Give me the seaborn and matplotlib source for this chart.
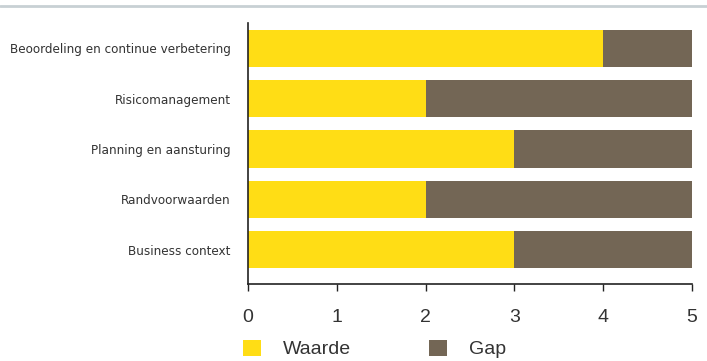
import matplotlib
matplotlib.use("Agg")
import matplotlib.pyplot as plt
import seaborn as sns
import pandas as pd
from matplotlib.patches import Patch
from matplotlib.lines import Line2D
from matplotlib import font_manager
from matplotlib.font_manager import FontProperties

categories = ["Beoordeling en continue verbetering", "Risicomanagement",
              "Planning en aansturing", "Randvoorwaarden", "Business context"]
waarde = [4, 2, 3, 2, 3]
gap = [1, 3, 2, 3, 2]
xticks = [0, 1, 2, 3, 4, 5]

YELLOW = "#FFDD15"
BROWN = "#736655"
TEXT = "#333333"

# look for a condensed / narrow sans face
cond = None
for f in font_manager.fontManager.ttflist:
    nm = f.name.lower()
    if ("narrow" in nm or "condensed" in nm or str(f.stretch) in ("condensed", "semi-condensed", "575", "500")) \
            and f.style == "normal" and f.weight in (400, "normal", "regular"):
        cond = f
        break

sns.set_style("white")
plt.rcParams["font.family"] = ["Liberation Sans", "DejaVu Sans"]

df = pd.DataFrame({"cat": categories, "waarde": waarde, "gap": gap})
df["total"] = df["waarde"] + df["gap"]

fig = plt.figure(figsize=(7.07, 3.61), dpi=100)
ax = fig.add_axes([248/707, 1-284/361, (692-248)/707, (284-23)/361])

sns.barplot(data=df, y="cat", x="total", color=BROWN, orient="h", width=0.74,
            saturation=1, ax=ax, linewidth=0)
sns.barplot(data=df, y="cat", x="waarde", color=YELLOW, orient="h", width=0.74,
            saturation=1, ax=ax, linewidth=0)

ax.set_xlim(0, 5)
ax.set_ylim(4.686, -0.507)
ax.set_xticks(xticks)
ax.set_xticklabels([str(t) for t in xticks], fontsize=14, color=TEXT)
ax.set_xlabel("")
ax.set_ylabel("")
ax.tick_params(axis="x", direction="out", length=5, width=1, color="#222222", pad=13, bottom=True)
ax.tick_params(axis="y", length=0, pad=12.5)
if cond is not None:
    fp = FontProperties(fname=cond.fname, size=9.6)
else:
    fp = FontProperties(family="Roboto", size=9.6)
for lab in ax.get_yticklabels():
    lab.set_fontproperties(fp)
    lab.set_color(TEXT)

for s in ["top", "right"]:
    ax.spines[s].set_visible(False)
for s in ["left", "bottom"]:
    ax.spines[s].set_color("#222222")
    ax.spines[s].set_linewidth(1.2)

fig.add_artist(Line2D([0, 1], [1-5.5/361, 1-5.5/361], transform=fig.transFigure,
                      color="#c8d0d4", linewidth=2))

handles = [Patch(facecolor=YELLOW, edgecolor="none", label="Waarde"),
           Patch(facecolor=BROWN, edgecolor="none", label="Gap")]
fig.legend(handles=handles, loc="center left", bbox_to_anchor=(243/707, 1-349/361),
           ncol=2, frameon=False, fontsize=14, handlelength=0.93, handleheight=0.93,
           handletextpad=1.13, columnspacing=4.0, labelcolor=TEXT,
           borderpad=0, borderaxespad=0)

fig.savefig("out.png", dpi=100)
